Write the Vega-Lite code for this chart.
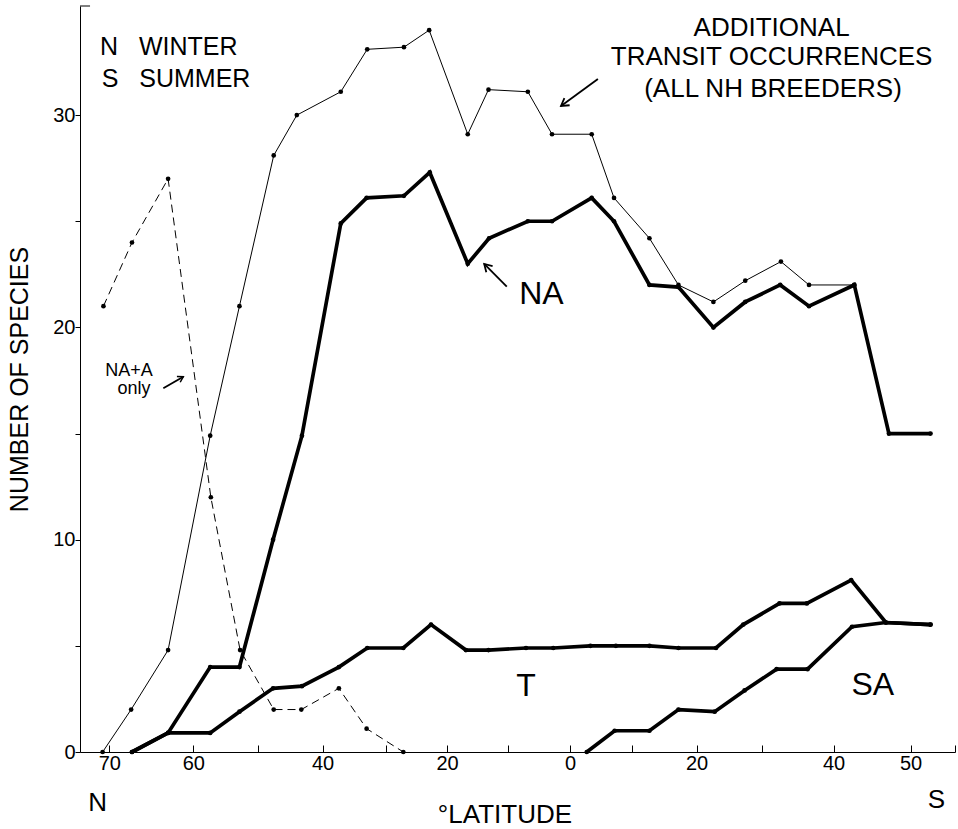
{
  "$schema": "https://vega.github.io/schema/vega-lite/v6.json",
  "width": 875,
  "height": 746,
  "autosize": "none",
  "padding": {"left": 80, "top": 6, "right": 3, "bottom": 77},
  "background": "white",
  "config": {
    "view": {"stroke": null},
    "font": "Liberation Sans",
    "axis": {"domainColor": "black", "tickColor": "black", "labelColor": "black", "titleColor": "black", "grid": false, "domainWidth": 1, "tickWidth": 1, "labelFont": "Liberation Sans", "titleFont": "Liberation Sans"}
  },
  "datasets": {
    "pts": [
      {"s": "transit", "lat": -70.8, "n": 0},
      {"s": "transit", "lat": -67.4, "n": 2.0},
      {"s": "transit", "lat": -63.0, "n": 4.8},
      {"s": "transit", "lat": -57.4, "n": 14.9},
      {"s": "transit", "lat": -52.9, "n": 21.0},
      {"s": "transit", "lat": -47.6, "n": 28.1},
      {"s": "transit", "lat": -44.0, "n": 30.0},
      {"s": "transit", "lat": -37.1, "n": 31.1},
      {"s": "transit", "lat": -32.9, "n": 33.1},
      {"s": "transit", "lat": -27.0, "n": 33.2},
      {"s": "transit", "lat": -22.9, "n": 34.0},
      {"s": "transit", "lat": -16.6, "n": 29.1},
      {"s": "transit", "lat": -13.2, "n": 31.2},
      {"s": "transit", "lat": -6.8, "n": 31.1},
      {"s": "transit", "lat": -2.9, "n": 29.1},
      {"s": "transit", "lat": 3.5, "n": 29.1},
      {"s": "transit", "lat": 7.1, "n": 26.1},
      {"s": "transit", "lat": 12.7, "n": 24.2},
      {"s": "transit", "lat": 17.2, "n": 22.0},
      {"s": "transit", "lat": 22.6, "n": 21.2},
      {"s": "transit", "lat": 27.5, "n": 22.2},
      {"s": "transit", "lat": 32.7, "n": 23.1},
      {"s": "transit", "lat": 36.6, "n": 22.0},
      {"s": "transit", "lat": 42.7, "n": 22.0},
      {"s": "NA", "lat": -67.3, "n": 0},
      {"s": "NA", "lat": -63.0, "n": 0.9},
      {"s": "NA", "lat": -57.4, "n": 4.0},
      {"s": "NA", "lat": -52.9, "n": 4.0},
      {"s": "NA", "lat": -47.7, "n": 10.0},
      {"s": "NA", "lat": -43.2, "n": 14.9},
      {"s": "NA", "lat": -37.1, "n": 24.9},
      {"s": "NA", "lat": -33.0, "n": 26.1},
      {"s": "NA", "lat": -27.0, "n": 26.2},
      {"s": "NA", "lat": -22.8, "n": 27.3},
      {"s": "NA", "lat": -16.6, "n": 23.0},
      {"s": "NA", "lat": -13.1, "n": 24.2},
      {"s": "NA", "lat": -6.8, "n": 25.0},
      {"s": "NA", "lat": -2.9, "n": 25.0},
      {"s": "NA", "lat": 3.5, "n": 26.1},
      {"s": "NA", "lat": 7.1, "n": 25.0},
      {"s": "NA", "lat": 12.7, "n": 22.0},
      {"s": "NA", "lat": 17.2, "n": 21.9},
      {"s": "NA", "lat": 22.6, "n": 20.0},
      {"s": "NA", "lat": 27.5, "n": 21.2},
      {"s": "NA", "lat": 32.6, "n": 22.0},
      {"s": "NA", "lat": 36.6, "n": 21.0},
      {"s": "NA", "lat": 42.7, "n": 22.0},
      {"s": "NA", "lat": 47.2, "n": 15.0},
      {"s": "NA", "lat": 52.7, "n": 15.0},
      {"s": "T", "lat": -67.3, "n": 0},
      {"s": "T", "lat": -63.0, "n": 0.9},
      {"s": "T", "lat": -57.4, "n": 0.9},
      {"s": "T", "lat": -52.9, "n": 1.9},
      {"s": "T", "lat": -47.7, "n": 3.0},
      {"s": "T", "lat": -43.2, "n": 3.1},
      {"s": "T", "lat": -37.4, "n": 4.0},
      {"s": "T", "lat": -32.9, "n": 4.9},
      {"s": "T", "lat": -27.1, "n": 4.9},
      {"s": "T", "lat": -22.6, "n": 6.0},
      {"s": "T", "lat": -16.9, "n": 4.8},
      {"s": "T", "lat": -13.2, "n": 4.8},
      {"s": "T", "lat": -7.1, "n": 4.9},
      {"s": "T", "lat": -2.7, "n": 4.9},
      {"s": "T", "lat": 3.3, "n": 5.0},
      {"s": "T", "lat": 7.4, "n": 5.0},
      {"s": "T", "lat": 12.7, "n": 5.0},
      {"s": "T", "lat": 17.2, "n": 4.9},
      {"s": "T", "lat": 23.0, "n": 4.9},
      {"s": "T", "lat": 27.2, "n": 6.0},
      {"s": "T", "lat": 32.5, "n": 7.0},
      {"s": "T", "lat": 36.3, "n": 7.0},
      {"s": "T", "lat": 42.3, "n": 8.1},
      {"s": "T", "lat": 46.8, "n": 6.1},
      {"s": "T", "lat": 52.7, "n": 6.0},
      {"s": "SA", "lat": 2.7, "n": 0},
      {"s": "SA", "lat": 7.2, "n": 1.0},
      {"s": "SA", "lat": 12.7, "n": 1.0},
      {"s": "SA", "lat": 17.2, "n": 2.0},
      {"s": "SA", "lat": 22.8, "n": 1.9},
      {"s": "SA", "lat": 27.4, "n": 2.9},
      {"s": "SA", "lat": 32.1, "n": 3.9},
      {"s": "SA", "lat": 36.4, "n": 3.9},
      {"s": "SA", "lat": 42.4, "n": 5.9},
      {"s": "SA", "lat": 46.8, "n": 6.1},
      {"s": "SA", "lat": 52.7, "n": 6.0},
      {"s": "NAA", "lat": -70.7, "n": 21.0},
      {"s": "NAA", "lat": -67.3, "n": 24.0},
      {"s": "NAA", "lat": -63.0, "n": 27.0},
      {"s": "NAA", "lat": -57.3, "n": 12.0},
      {"s": "NAA", "lat": -52.8, "n": 4.8},
      {"s": "NAA", "lat": -47.6, "n": 2.0},
      {"s": "NAA", "lat": -43.3, "n": 2.0},
      {"s": "NAA", "lat": -37.4, "n": 3.0},
      {"s": "NAA", "lat": -33.0, "n": 1.1},
      {"s": "NAA", "lat": -27.1, "n": 0}
    ]
  },
  "encoding": {
    "x": {
      "field": "lat", "type": "quantitative",
      "scale": {
        "domain": [-73.5, -70, -60, -50, -40, -30, -20, -10, 0, 10, 20, 30, 40, 50, 56],
        "range": [0, 29.3, 113.3, 178.3, 242.5, 305.5, 367, 428, 490, 552, 616.5, 681.5, 753.5, 830.5, 875],
        "nice": false, "zero": false
      },
      "axis": {
        "title": null,
        "values": [-70, -60, -50, -40, -30, -20, -10, 0, 10, 20, 30, 40, 50, 56],
        "labelExpr": "indexof([-70,-60,-40,-20,0,20,40,50], datum.value) >= 0 ? format(abs(datum.value), 'd') : ''",
        "tickSize": -7,
        "labelPadding": 8,
        "labelFontSize": 20,
        "labelFlush": false,
        "labelOverlap": false,
        "labelBound": false
      }
    },
    "y": {
      "field": "n", "type": "quantitative",
      "scale": {"domain": [0, 35.14], "nice": false, "zero": false},
      "axis": {
        "title": "NUMBER OF SPECIES",
        "values": [0, 5, 10, 15, 20, 25, 30],
        "labelExpr": "datum.value % 10 === 0 ? datum.label : ''",
        "tickSize": 5,
        "labelPadding": 0,
        "labelFontSize": 20,
        "titleFontSize": 25,
        "titleFontWeight": "normal",
        "titlePadding": 20,
        "labelOverlap": false
      }
    }
  },
  "layer": [
    {
      "data": {"name": "pts"},
      "transform": [{"filter": "datum.s === 'transit'"}],
      "mark": {"type": "line", "stroke": "black", "strokeWidth": 1}
    },
    {
      "data": {"name": "pts"},
      "transform": [{"filter": "datum.s === 'NAA'"}],
      "mark": {"type": "line", "stroke": "black", "strokeWidth": 1, "strokeDash": [8, 5]}
    },
    {
      "data": {"name": "pts"},
      "transform": [{"filter": "datum.s === 'NA' || datum.s === 'T' || datum.s === 'SA'"}],
      "mark": {"type": "line", "stroke": "black", "strokeWidth": 3.7},
      "encoding": {"detail": {"field": "s"}}
    },
    {
      "data": {"name": "pts"},
      "mark": {"type": "circle", "color": "black", "opacity": 1, "size": 22}
    },
    {
      "data": {"values": [{"lat": -73.5, "n": 35.14, "lat2": -72.3}]},
      "mark": {"type": "rule", "stroke": "black", "strokeWidth": 1},
      "encoding": {"x2": {"field": "lat2"}}
    },
    {
      "data": {"values": [
        {"lat": 4.5, "n": 31.7, "lat2": -1.45, "n2": 30.43},
        {"lat": -10.2, "n": 21.92, "lat2": -13.9, "n2": 22.99},
        {"lat": -63.57, "n": 17.13, "lat2": -61.19, "n2": 17.68}
      ]},
      "mark": {"type": "rule", "stroke": "black", "strokeWidth": 1.8},
      "encoding": {"x2": {"field": "lat2"}, "y2": {"field": "n2"}}
    },
    {
      "data": {"values": [{"lat": -1.45, "n": 30.43}]},
      "mark": {"type": "point", "shape": "M -1 -0.6 L 0 0 L -1 0.6", "filled": false, "stroke": "black", "strokeWidth": 1.8, "size": 220, "angle": 144, "opacity": 1}
    },
    {
      "data": {"values": [{"lat": -13.9, "n": 22.99}]},
      "mark": {"type": "point", "shape": "M -1 -0.6 L 0 0 L -1 0.6", "filled": false, "stroke": "black", "strokeWidth": 1.8, "size": 220, "angle": 225, "opacity": 1}
    },
    {
      "data": {"values": [{"lat": -61.19, "n": 17.68}]},
      "mark": {"type": "point", "shape": "M -1 -0.6 L 0 0 L -1 0.6", "filled": false, "stroke": "black", "strokeWidth": 1.5, "size": 120, "angle": 330, "opacity": 1}
    },
    {
      "data": {"values": [
        {"lat": -4.6, "n": 21.08, "label": "NA"},
        {"lat": -7.1, "n": 2.64, "label": "T"},
        {"lat": 45.1, "n": 2.68, "label": "SA"}
      ]},
      "mark": {"type": "text", "fontSize": 32, "align": "center", "baseline": "alphabetic", "color": "black"},
      "encoding": {"text": {"field": "label"}}
    },
    {
      "data": {"values": [
        {"lat": 31.4, "n": 33.73, "label": "ADDITIONAL"},
        {"lat": 31.4, "n": 32.36, "label": "TRANSIT OCCURRENCES"},
        {"lat": 31.6, "n": 30.85, "label": "(ALL NH BREEDERS)"}
      ]},
      "mark": {"type": "text", "fontSize": 26, "align": "center", "baseline": "alphabetic", "color": "black"},
      "encoding": {"text": {"field": "label"}}
    },
    {
      "data": {"values": [
        {"lat": -71.1, "n": 32.83, "label": "N\u00a0\u00a0\u00a0WINTER"},
        {"lat": -70.9, "n": 31.32, "label": "S\u00a0\u00a0\u00a0SUMMER"}
      ]},
      "mark": {"type": "text", "fontSize": 25, "align": "left", "baseline": "alphabetic", "color": "black"},
      "encoding": {"text": {"field": "label"}}
    },
    {
      "data": {"values": [
        {"lat": -67.65, "n": 17.72, "label": "NA+A"},
        {"lat": -67.05, "n": 16.84, "label": "only"}
      ]},
      "mark": {"type": "text", "fontSize": 18, "align": "center", "baseline": "alphabetic", "color": "black"},
      "encoding": {"text": {"field": "label"}}
    },
    {
      "data": {"values": [
        {"lat": -71.4, "n": -2.78, "label": "N"},
        {"lat": 53.5, "n": -2.64, "label": "S"},
        {"lat": -10.5, "n": -3.36, "label": "°LATITUDE"}
      ]},
      "mark": {"type": "text", "fontSize": 26, "align": "center", "baseline": "alphabetic", "color": "black"},
      "encoding": {"text": {"field": "label"}}
    }
  ]
}
